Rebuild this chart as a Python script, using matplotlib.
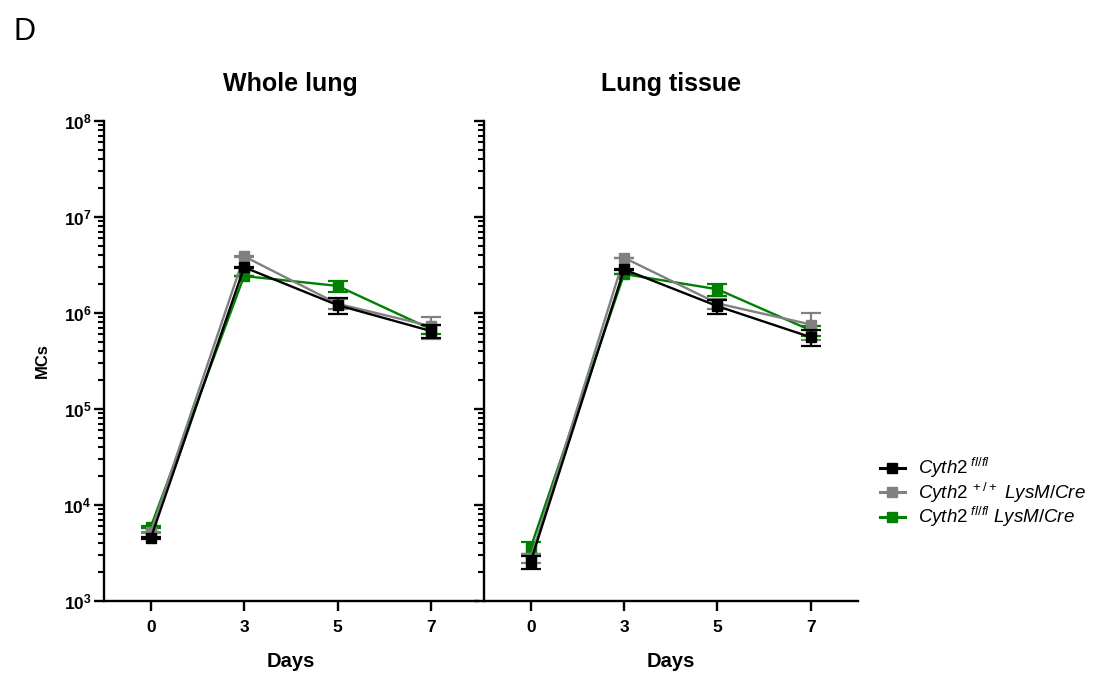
import numpy as np
import matplotlib
matplotlib.use("Agg")
import matplotlib.pyplot as plt
from matplotlib.lines import Line2D
from matplotlib.ticker import LogLocator, NullFormatter, FixedLocator

plt.rcParams['font.family'] = ['Liberation Sans', 'DejaVu Sans']
plt.rcParams['mathtext.fontset'] = 'custom'
plt.rcParams['mathtext.rm'] = 'Liberation Sans'
plt.rcParams['mathtext.it'] = 'Liberation Sans:italic'
plt.rcParams['mathtext.bf'] = 'Liberation Sans:bold'

# data
days = ["0", "3", "5", "7"]
titles = ["Whole lung", "Lung tissue"]
labels = [r"$Cyth2^{\ fl/fl}$",
          r"$Cyth2^{\ +/+}\ LysM/Cre$",
          r"$Cyth2^{\ fl/fl}\ LysM/Cre$"]
colors = ["#000000", "#808080", "#008000"]

# whole lung: mean and SEM per group
whole_fl = [4.5e3, 3.0e6, 1.21e6, 6.5e5]
whole_fl_err = [1e2, 2e4, 2.3e5, 1.0e5]
whole_wt_cre = [5.2e3, 3.9e6, 1.25e6, 7.3e5]
whole_wt_cre_err = [1e2, 2e4, 1.5e5, 1.9e5]
whole_fl_cre = [5.9e3, 2.43e6, 1.92e6, 6.8e5]
whole_fl_cre_err = [1e2, 2e4, 2.5e5, 8e4]

# lung tissue
tissue_fl = [2.57e3, 2.85e6, 1.18e6, 5.6e5]
tissue_fl_err = [4e2, 2e4, 2e5, 1.1e5]
tissue_wt_cre = [2.8e3, 3.77e6, 1.26e6, 7.6e5]
tissue_wt_cre_err = [3e2, 2e4, 1.5e5, 2.3e5]
tissue_fl_cre = [3.6e3, 2.55e6, 1.77e6, 6.6e5]
tissue_fl_cre_err = [5e2, 2e4, 2.5e5, 8e4]

panels = [
    [(whole_fl, whole_fl_err), (whole_wt_cre, whole_wt_cre_err), (whole_fl_cre, whole_fl_cre_err)],
    [(tissue_fl, tissue_fl_err), (tissue_wt_cre, tissue_wt_cre_err), (tissue_fl_cre, tissue_fl_cre_err)],
]

fig = plt.figure(figsize=(11.02, 6.75), dpi=100)
ax1 = fig.add_axes([0.0944, 0.1096, 0.339, 0.711])
ax2 = fig.add_axes([0.4392, 0.1096, 0.339, 0.711])

x = np.arange(len(days))
for ax, title, groups in zip([ax1, ax2], titles, panels):
    for i, (vals, errs) in enumerate(groups):
        ax.errorbar(x, vals, yerr=errs, color=colors[i], marker="s", markersize=7.5,
                    linewidth=1.7, elinewidth=1.6, capsize=7, capthick=1.6,
                    zorder=5 - i)
    ax.set_yscale("log")
    ax.set_ylim(1e3, 1e8)
    ax.set_xlim(-0.5, 3.5)
    ax.set_xticks(x)
    ax.set_xticklabels(days, fontsize=12.5, fontweight="bold")
    ax.yaxis.set_major_locator(FixedLocator([1e3, 1e4, 1e5, 1e6, 1e7, 1e8]))
    ax.yaxis.set_minor_locator(LogLocator(base=10, subs=np.arange(2, 10), numticks=20))
    ax.yaxis.set_minor_formatter(NullFormatter())
    for s in ["top", "right"]:
        ax.spines[s].set_visible(False)
    for s in ["left", "bottom"]:
        ax.spines[s].set_linewidth(1.7)
    ax.tick_params(axis="x", which="major", length=7, width=1.7, direction="out", pad=7)
    ax.tick_params(axis="y", which="major", length=7, width=1.7, direction="out", pad=2)
    ax.tick_params(axis="y", which="minor", length=4, width=1.5, direction="out")
    ax.set_xlabel("Days", fontsize=14.5, fontweight="bold", labelpad=12)
    ax.set_title(title, fontsize=18, fontweight="bold", pad=22)

ax1.set_yticklabels([r"$\mathbf{10^{%d}}$" % k for k in range(3, 9)], fontsize=12.5)
ax2.set_yticklabels([])
ax1.set_ylabel("MCs", fontsize=12, fontweight="bold", labelpad=10)

handles = [Line2D([], [], color=c, marker="s", markersize=7.5, linewidth=2.2) for c in colors]
fig.legend(handles, labels, loc="upper left", bbox_to_anchor=(0.783, 0.349),
           frameon=False, fontsize=13.5, handlelength=1.35, handletextpad=0.7,
           labelspacing=0.02)

fig.text(0.012, 0.94, "D", fontsize=22)

fig.savefig("out.png", dpi=100)
